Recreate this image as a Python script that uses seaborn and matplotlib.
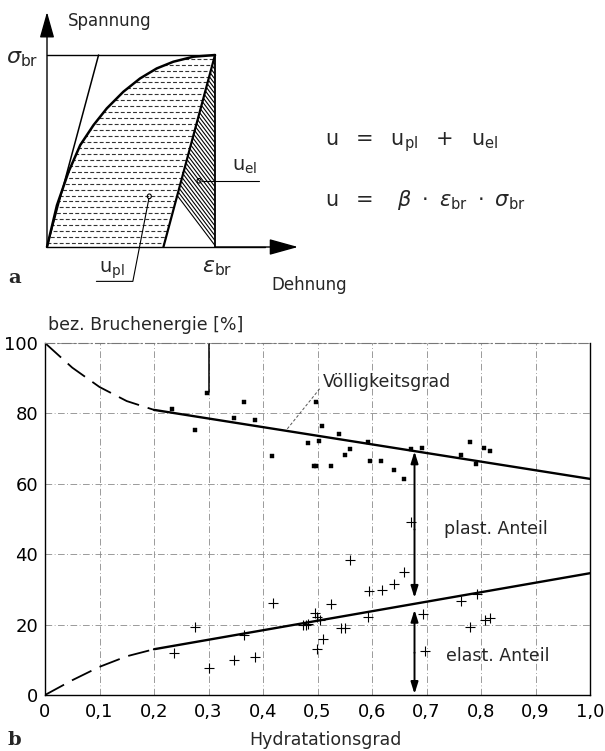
import numpy as np
import pandas as pd
import matplotlib
matplotlib.use("Agg")
import matplotlib.pyplot as plt
import seaborn as sns
from matplotlib.patches import Polygon, Circle

# ---------------- data: panel a (stress-strain sketch, normalised) ----------------
curve_strain = [0.0, 0.059, 0.128, 0.198, 0.277, 0.356, 0.455, 0.554, 0.653, 0.752, 0.871, 1.0]
curve_stress = [0.0, 0.217, 0.391, 0.531, 0.635, 0.722, 0.809, 0.878, 0.930, 0.965, 0.991, 1.0]
tangent_strain = [0.0, 0.307]
tangent_stress = [0.0, 1.0]
unload_strain = [0.693, 1.0]
unload_stress = [0.0, 1.0]

# ---------------- data: panel b ----------------
hyd_total = [0.233, 0.276, 0.297, 0.346, 0.366, 0.385, 0.416, 0.483, 0.497, 0.493, 0.498,
             0.502, 0.509, 0.524, 0.540, 0.551, 0.559, 0.592, 0.597, 0.617, 0.640, 0.658,
             0.672, 0.692, 0.763, 0.780, 0.791, 0.806, 0.816]
energy_total = [81.2, 75.2, 85.9, 78.6, 83.3, 78.1, 68.0, 71.5, 83.3, 65.0, 65.0,
                72.2, 76.4, 65.0, 74.2, 68.3, 69.9, 72.0, 66.6, 66.4, 63.9, 61.3,
                69.9, 70.3, 68.2, 71.8, 65.7, 70.1, 69.3]
hyd_elastic = [0.236, 0.276, 0.300, 0.347, 0.366, 0.386, 0.418, 0.473, 0.479, 0.482, 0.496,
               0.499, 0.505, 0.510, 0.499, 0.525, 0.543, 0.551, 0.560, 0.595, 0.593, 0.618,
               0.641, 0.659, 0.672, 0.694, 0.697, 0.764, 0.780, 0.792, 0.808, 0.816]
energy_elastic = [12.0, 19.4, 7.6, 9.9, 17.0, 10.9, 26.2, 19.9, 19.9, 20.3, 23.2,
                  22.1, 21.3, 15.8, 13.0, 25.9, 18.9, 18.9, 38.4, 29.5, 22.2, 29.8,
                  31.5, 35.0, 49.2, 22.9, 12.5, 26.7, 19.4, 28.7, 21.3, 21.8]

total_fit_x = [0.2, 1.0]
total_fit_y = [81.0, 61.4]
total_dash_x = [0.0, 0.05, 0.1, 0.15, 0.2]
total_dash_y = [100.0, 93.0, 87.5, 83.5, 81.0]
elastic_fit_x = [0.2, 1.0]
elastic_fit_y = [13.0, 34.6]
elastic_dash_x = [0.0, 0.05, 0.1, 0.15, 0.2]
elastic_dash_y = [0.0, 4.2, 8.0, 11.0, 13.0]

x_ticks = [0.0, 0.1, 0.2, 0.3, 0.4, 0.5, 0.6, 0.7, 0.8, 0.9, 1.0]
x_tick_labels = ["0", "0,1", "0,2", "0,3", "0,4", "0,5", "0,6", "0,7", "0,8", "0,9", "1,0"]
y_ticks = [0, 20, 40, 60, 80, 100]
y_tick_labels = ["0", "20", "40", "60", "80", "100"]

sns.set_theme(style="white")
plt.rcParams["font.family"] = ["DejaVu Sans"]
plt.rcParams["mathtext.fontset"] = "dejavusans"

W, H = 605, 751
fig = plt.figure(figsize=(W / 100, H / 100), dpi=100)
fig.patch.set_facecolor("white")

# ================= panel a =================
px0, py0, sx, sy = 47.0, 247.0, 168.0, 192.0   # pixel mapping of the sketch
ax_a = fig.add_axes([0, (H - 300) / H, 1, 300 / H])
ax_a.set_xlim(-px0 / sx, (W - px0) / sx)
ax_a.set_ylim((py0 - 300) / sy, py0 / sy)
ax_a.axis("off")

plastic_pts = list(zip(curve_strain, curve_stress)) + [(unload_strain[0], unload_stress[0])]
plastic_poly = Polygon(plastic_pts, closed=True, facecolor="white", edgecolor="none")
ax_a.add_patch(plastic_poly)
hy = np.arange(0.02, 1.0, 0.031)
for i, yv in enumerate(hy):
    off = 0 if i % 2 == 0 else 2.5
    hl, = ax_a.plot([0, 1], [yv, yv], color="#333333", lw=0.8, ls=(off, (3.5, 2.0)))
    hl.set_clip_path(plastic_poly)

tri_pts = [(unload_strain[0], 0.0), (1.0, 1.0), (1.0, 0.0)]
tri_poly = Polygon(tri_pts, closed=True, facecolor="white", edgecolor="none")
ax_a.add_patch(tri_poly)
for x0 in np.arange(0.1, 1.9, 0.022):
    ln, = ax_a.plot([x0, x0 + 0.95], [1.05, -0.05], color="black", lw=0.8)
    ln.set_clip_path(tri_poly)

sns.lineplot(x=curve_strain, y=curve_stress, ax=ax_a, color="black", lw=1.8, sort=False)
sns.lineplot(x=tangent_strain, y=tangent_stress, ax=ax_a, color="black", lw=1.1)
sns.lineplot(x=unload_strain, y=unload_stress, ax=ax_a, color="black", lw=1.6)
ax_a.plot([0, 1.0], [1.0, 1.0], color="black", lw=1.0)
ax_a.plot([1.0, 1.0], [0, 1.0], color="black", lw=1.3)
ax_a.plot([0, 1.3], [0, 0], color="black", lw=1.0)

ax_a.annotate("", xy=(0, (py0 - 12) / sy), xytext=(0, 0),
              arrowprops=dict(arrowstyle="-|>,head_length=1.6,head_width=0.45",
                              color="black", lw=1.0, mutation_scale=10, shrinkA=0, shrinkB=0))
ax_a.annotate("", xy=((298 - px0) / sx, 0), xytext=(1.0, 0),
              arrowprops=dict(arrowstyle="-|>,head_length=1.8,head_width=0.5",
                              color="black", lw=1.0, mutation_scale=10, shrinkA=0, shrinkB=0))

ax_a.text(0.124, 1.175, "Spannung", fontsize=12, ha="left", va="center")
ax_a.text(1.337, -0.196, "Dehnung", fontsize=12, ha="left", va="center")
ax_a.text(-0.245, 0.98, r"$\sigma_{\mathrm{br}}$", fontsize=16, ha="left", va="center")
ax_a.text(0.92, -0.11, r"$\varepsilon_{\mathrm{br}}$", fontsize=16, ha="left", va="center")

# leaders
ax_a.add_patch(Circle((0.905, 0.345), 0.012, fill=False, lw=0.8, ec="black", zorder=5))
ax_a.plot([0.92, 1.26], [0.345, 0.345], color="black", lw=0.8)
ax_a.text(1.10, 0.42, r"$\mathrm{u}_{\mathrm{el}}$", fontsize=14, ha="left", va="center")
ax_a.add_patch(Circle((0.609, 0.264), 0.012, fill=False, lw=0.8, ec="black", zorder=5))
ax_a.plot([0.606, 0.511, 0.294], [0.25, -0.179, -0.179], color="black", lw=0.8)
ax_a.text(0.31, -0.12, r"$\mathrm{u}_{\mathrm{pl}}$", fontsize=14, ha="left", va="center")

ax_a.text(1.657, 0.546, r"$\mathrm{u}\ \ =\ \ \mathrm{u}_{\mathrm{pl}}\ \ +\ \ \mathrm{u}_{\mathrm{el}}$",
          fontsize=15, ha="left", va="center")
ax_a.text(1.657, 0.247,
          r"$\mathrm{u}\ \ =\ \ \ \beta\ \cdot\ \varepsilon_{\mathrm{br}}\ \cdot\ \sigma_{\mathrm{br}}$",
          fontsize=15, ha="left", va="center")

fig.text(8 / W, (H - 278) / H, "a", fontsize=14, fontweight="bold", family="DejaVu Serif",
         ha="left", va="center")

# ================= panel b =================
ax_b = fig.add_axes([45 / W, 56 / H, 545 / W, 352 / H])
ax_b.set_xlim(0, 1.0)
ax_b.set_ylim(0, 100)
ax_b.set_facecolor("white")

ax_b.grid(True, color="#8a8a8a", lw=0.6, ls=(0, (8, 3, 1, 3)))
ax_b.set_axisbelow(True)
for side in ["left", "bottom", "right"]:
    ax_b.spines[side].set_color("black")
    ax_b.spines[side].set_linewidth(1.0)
ax_b.spines["top"].set_color("#777777")
ax_b.spines["top"].set_linewidth(0.8)
ax_b.spines["top"].set_linestyle((0, (8, 3, 1, 3)))

sns.lineplot(x=total_fit_x, y=total_fit_y, ax=ax_b, color="black", lw=1.7)
sns.lineplot(x=total_dash_x, y=total_dash_y, ax=ax_b, color="black", lw=1.3,
             linestyle=(0, (12, 5)))
sns.lineplot(x=elastic_fit_x, y=elastic_fit_y, ax=ax_b, color="black", lw=1.7)
sns.lineplot(x=elastic_dash_x, y=elastic_dash_y, ax=ax_b, color="black", lw=1.3,
             linestyle=(0, (12, 5)))

sns.scatterplot(x=hyd_total, y=energy_total, ax=ax_b, marker="s", s=9, color="black",
                edgecolor="black", linewidth=0.3, zorder=4)
sns.scatterplot(x=hyd_elastic, y=energy_elastic, ax=ax_b, marker="+", s=60, color="black",
                linewidth=0.8, zorder=4)

ax_b.plot([0.3, 0.3], [100, 86], color="black", lw=1.1)

arrow_style = "-|>,head_length=0.7,head_width=0.22"
ax_b.annotate("", xy=(0.678, 69.2), xytext=(0.678, 47.0),
              arrowprops=dict(arrowstyle=arrow_style, color="black", lw=1.4,
                              mutation_scale=10, shrinkA=0, shrinkB=0))
ax_b.annotate("", xy=(0.678, 27.6), xytext=(0.678, 47.0),
              arrowprops=dict(arrowstyle=arrow_style, color="black", lw=1.4,
                              mutation_scale=10, shrinkA=0, shrinkB=0))
ax_b.annotate("", xy=(0.678, 24.2), xytext=(0.678, 12.0),
              arrowprops=dict(arrowstyle=arrow_style, color="black", lw=1.4,
                              mutation_scale=10, shrinkA=0, shrinkB=0))
ax_b.annotate("", xy=(0.678, 0.3), xytext=(0.678, 12.0),
              arrowprops=dict(arrowstyle=arrow_style, color="black", lw=1.4,
                              mutation_scale=10, shrinkA=0, shrinkB=0))

ax_b.plot([0.504, 0.443], [87, 75.3], color="#555555", lw=0.7, ls=(0, (3, 2)))
ax_b.text(0.509, 89, "Völligkeitsgrad", fontsize=12.5, ha="left", va="center")
ax_b.text(0.733, 47.3, "plast. Anteil", fontsize=12.5, ha="left", va="center")
ax_b.text(0.735, 11.1, "elast. Anteil", fontsize=12.5, ha="left", va="center")

ax_b.set_xticks(x_ticks)
ax_b.set_xticklabels(x_tick_labels, fontsize=13)
ax_b.set_yticks(y_ticks)
ax_b.set_yticklabels(y_tick_labels, fontsize=13)
ax_b.tick_params(axis="both", length=0, colors="black")
ax_b.tick_params(axis="x", pad=6)
ax_b.tick_params(axis="y", pad=5)
ax_b.set_xlabel("")
ax_b.set_ylabel("")

fig.text(48 / W, (H - 325) / H, "bez. Bruchenergie [%]", fontsize=12.5, ha="left", va="center")
fig.text(325 / W, (H - 740) / H, "Hydratationsgrad", fontsize=12.5, ha="center", va="center")
fig.text(8 / W, (H - 740) / H, "b", fontsize=14, fontweight="bold", family="DejaVu Serif",
         ha="left", va="center")

fig.savefig("out.png", dpi=100, facecolor="white")
